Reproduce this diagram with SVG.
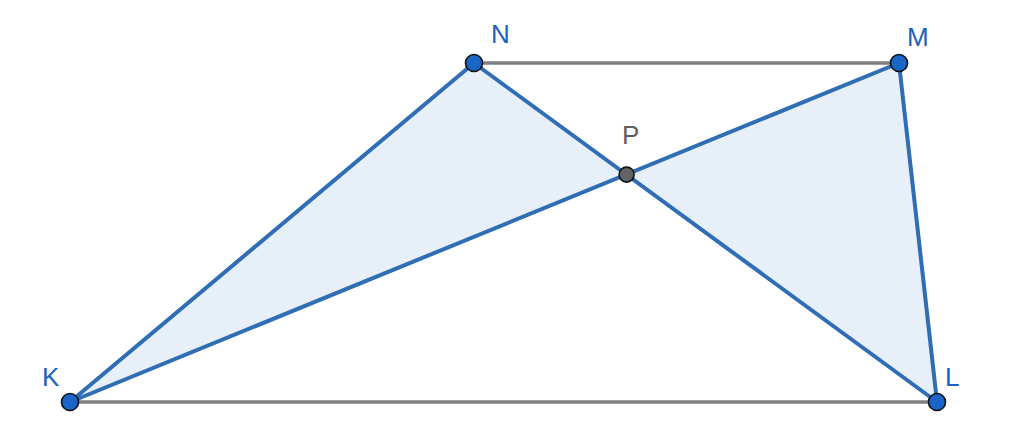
<svg xmlns="http://www.w3.org/2000/svg" width="1024" height="448" viewBox="0 0 1024 448">
<style>
.fill{fill:#e7eff9;stroke:none}
.seg{stroke:#2f6db5;stroke-width:4;stroke-linecap:round;fill:none}
.gray{stroke:#7f7f7f;stroke-width:3.5;fill:none}
.pt{fill:#1a66c8;stroke:#111;stroke-width:1.6}
.ptg{fill:#636363;stroke:#111;stroke-width:1.6}
.lbl{font-family:"Liberation Sans",Arial,sans-serif;font-size:26px;fill:#1a62c0}
.lblg{font-family:"Liberation Sans",Arial,sans-serif;font-size:26px;fill:#5f5f5f}
</style>
<rect width="1024" height="448" fill="#ffffff"/>
<g id="fills">
<polygon class="fill" points="474,63 70,402 626.6,174.6"/>
<polygon class="fill" points="626.6,174.6 899,63 937,402"/>
</g>
<g id="connectors">
<line class="gray" x1="474" y1="63" x2="899" y2="63"/>
<line class="gray" x1="70" y1="402" x2="937" y2="402"/>
<line class="seg" x1="474" y1="63" x2="70" y2="402"/>
<line class="seg" x1="474" y1="63" x2="937" y2="402"/>
<line class="seg" x1="70" y1="402" x2="899" y2="63"/>
<line class="seg" x1="899" y1="63" x2="937" y2="402"/>
</g>
<g id="N"><circle class="pt" cx="474" cy="63" r="8.5"/><text class="lbl" x="491" y="43">N</text></g>
<g id="M"><circle class="pt" cx="899" cy="63" r="8.5"/><text class="lbl" x="907" y="46">M</text></g>
<g id="P"><circle class="ptg" cx="626.6" cy="174.6" r="7.5"/><text class="lblg" x="622" y="144">P</text></g>
<g id="K"><circle class="pt" cx="70" cy="402" r="8.5"/><text class="lbl" x="42" y="386">K</text></g>
<g id="L"><circle class="pt" cx="937" cy="402" r="8.5"/><text class="lbl" x="945" y="386">L</text></g>
</svg>
